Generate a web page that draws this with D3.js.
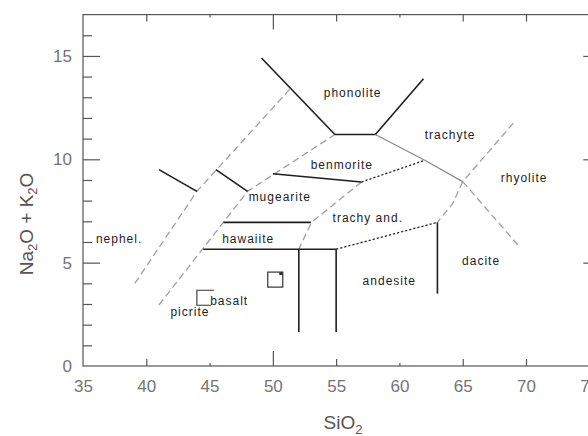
<!DOCTYPE html>
<html>
<head>
<meta charset="utf-8">
<script src="https://cdn.jsdelivr.net/npm/d3@7"></script>
<style>
    body { margin: 0; background: #fff; }
    svg { display: block; }
    .tick text { font-family: 'Liberation Sans', Arial, sans-serif; font-size: 17px; fill: #747474; }
    .tick line { stroke: #555; stroke-width: 1.2; }
    .region { font-family: 'Liberation Sans', Arial, sans-serif; font-size: 12px; letter-spacing: 1px; fill: #1e1e1e; }
    .title { font-family: 'Liberation Sans', Arial, sans-serif; font-size: 19px; fill: #555; }
</style>
</head>
<body>
<script>
// boundaries, in SiO2 / Na2O+K2O wt%
const solidLines = [
    [[49.1, 14.9], [54.9, 11.2]],
    [[54.9, 11.2], [58.1, 11.2]],
    [[58.1, 11.2], [61.9, 13.9]],
    [[41.0, 9.5], [44.0, 8.45]],
    [[45.5, 9.5], [48.0, 8.45]],
    [[50.0, 9.3], [57.0, 8.9]],
    [[46.1, 6.95], [53.0, 6.95]],
    [[44.5, 5.65], [55.0, 5.65]],
    [[52.05, 5.65], [52.05, 1.65]],
    [[55.0, 5.65], [55.0, 1.65]],
    [[63.0, 6.95], [63.0, 3.5]]
];
const greyLines = [
    [[58.1, 11.2], [62.0, 9.95], [65.0, 8.92]]
];
const dashedLines = [
    [[39.1, 4.0], [44.0, 8.45], [51.35, 13.4]],
    [[41.0, 2.95], [48.0, 8.45], [54.9, 11.2]],
    [[57.0, 8.9], [53.05, 6.95], [52.05, 5.65]],
    [[69.0, 11.75], [65.0, 8.92], [64.2, 7.85], [63.0, 6.95]],
    [[65.0, 8.92], [69.5, 5.75]]
];
const dottedLines = [
    [[57.0, 8.9], [62.0, 9.95]],
    [[55.0, 5.65], [63.0, 6.95]]
];

const regionNames = ['phonolite', 'trachyte', 'benmorite', 'rhyolite', 'mugearite', 'trachy and.',
    'dacite', 'andesite', 'nephel.', 'hawaiite', 'basalt', 'picrite'];
const regionSi = [56.3, 64.0, 55.45, 69.85, 50.55, 57.5, 66.45, 59.2, 37.85, 48.05, 46.55, 43.45];
const regionAlk = [13.0, 11.0, 9.55, 8.9, 8.0, 6.95, 4.9, 3.9, 5.95, 5.95, 2.95, 2.4];

// plotted samples
const sampleSi = [50.19, 44.63];
const sampleAlk = [4.18, 3.3];

const xTicks = [35, 40, 45, 50, 55, 60, 65, 70, 75];
const yTicks = [0, 5, 10, 15];
const yMinorTicks = [1, 2, 3, 4, 6, 7, 8, 9, 11, 12, 13, 14, 16];

const width = 588, height = 436;

const svg = d3.select('body')
    .append('svg')
    .attr('width', width)
    .attr('height', height);

const x = d3.scaleLinear().domain([35, 75]).range([83, 589.3]);
const y = d3.scaleLinear().domain([0, 17]).range([366, 14.6]);

const xTickLen = v => v === 50 ? 15 : (v === 45 || v === 60) ? 3 : 7;

// frame
svg.append('rect')
    .attr('x', x(35))
    .attr('y', y(17))
    .attr('width', x(75) - x(35))
    .attr('height', y(0) - y(17))
    .attr('fill', 'none')
    .attr('stroke', '#555')
    .attr('stroke-width', 1.2);

const bottomAxis = svg.append('g')
    .attr('transform', 'translate(0,' + y(0) + ')')
    .call(d3.axisBottom(x).tickValues(xTicks).tickSize(-7).tickPadding(14));
bottomAxis.selectAll('.tick line').attr('y2', d => d === 35 ? 0 : -xTickLen(d));

const topAxis = svg.append('g')
    .attr('transform', 'translate(0,' + y(17) + ')')
    .call(d3.axisTop(x).tickValues(xTicks.slice(1, -1)).tickSize(-7).tickFormat(''));
topAxis.selectAll('.tick line').attr('y2', d => xTickLen(d));

svg.append('g')
    .attr('transform', 'translate(' + x(35) + ',0)')
    .call(d3.axisLeft(y).tickValues(yTicks).tickSize(-17).tickPadding(11));

svg.append('g')
    .attr('transform', 'translate(' + x(35) + ',0)')
    .call(d3.axisLeft(y).tickValues(yMinorTicks).tickSize(-9).tickFormat(''));

svg.append('g')
    .attr('transform', 'translate(' + x(75) + ',0)')
    .call(d3.axisRight(y).tickValues(yTicks).tickSize(-6).tickFormat(''));

svg.selectAll('.domain').remove();
svg.selectAll('.tick').filter(d => d === 0).select('line').remove();

const line = d3.line().x(d => x(d[0])).y(d => y(d[1]));

function drawLines(data, stroke, widthPx, dash) {
    svg.append('g')
        .selectAll('path')
        .data(data)
        .enter()
        .append('path')
        .attr('d', line)
        .attr('fill', 'none')
        .attr('stroke', stroke)
        .attr('stroke-width', widthPx)
        .attr('stroke-dasharray', dash);
}

drawLines(dashedLines, '#a0a0a0', 1.3, '7,4');
drawLines(greyLines, '#888', 1.2, null);
drawLines(dottedLines, '#222', 1.3, '2.2,2');
drawLines(solidLines, '#1e1e1e', 1.6, null);

// region names
svg.append('g')
    .selectAll('text')
    .data(regionNames)
    .enter()
    .append('text')
    .classed('region', true)
    .attr('x', (d, i) => x(regionSi[i]))
    .attr('y', (d, i) => y(regionAlk[i]))
    .attr('text-anchor', 'middle')
    .text(d => d);

// samples
const s1 = [x(sampleSi[0]), y(sampleAlk[0])];
svg.append('rect')
    .attr('x', s1[0] - 7.5).attr('y', s1[1] - 7.5)
    .attr('width', 15).attr('height', 15)
    .attr('fill', 'none').attr('stroke', '#333').attr('stroke-width', 1.2);
svg.append('rect')
    .attr('x', s1[0] + 4).attr('y', s1[1] - 7.5)
    .attr('width', 3.5).attr('height', 3)
    .attr('fill', '#333');

const s2 = [x(sampleSi[1]), y(sampleAlk[1])];
svg.append('path')
    .attr('d', 'M' + (s2[0] + 9) + ',' + (s2[1] - 7.5)
        + 'H' + (s2[0] - 8) + 'V' + (s2[1] + 7.5) + 'H' + (s2[0] + 6))
    .attr('fill', 'none').attr('stroke', '#333').attr('stroke-width', 1.1);

// axis titles
const xt = svg.append('text')
    .classed('title', true)
    .attr('x', 343)
    .attr('y', 429)
    .attr('text-anchor', 'middle');
xt.append('tspan').text('SiO');
xt.append('tspan').attr('dy', 5).attr('font-size', 13).text('2');

const yt = svg.append('text')
    .classed('title', true)
    .attr('transform', 'translate(33,224) rotate(-90)')
    .attr('text-anchor', 'middle');
yt.append('tspan').text('Na');
yt.append('tspan').attr('dy', 4).attr('font-size', 13).text('2');
yt.append('tspan').attr('dy', -4).text('O + K');
yt.append('tspan').attr('dy', 4).attr('font-size', 13).text('2');
yt.append('tspan').attr('dy', -4).text('O');
</script>
</body>
</html>
